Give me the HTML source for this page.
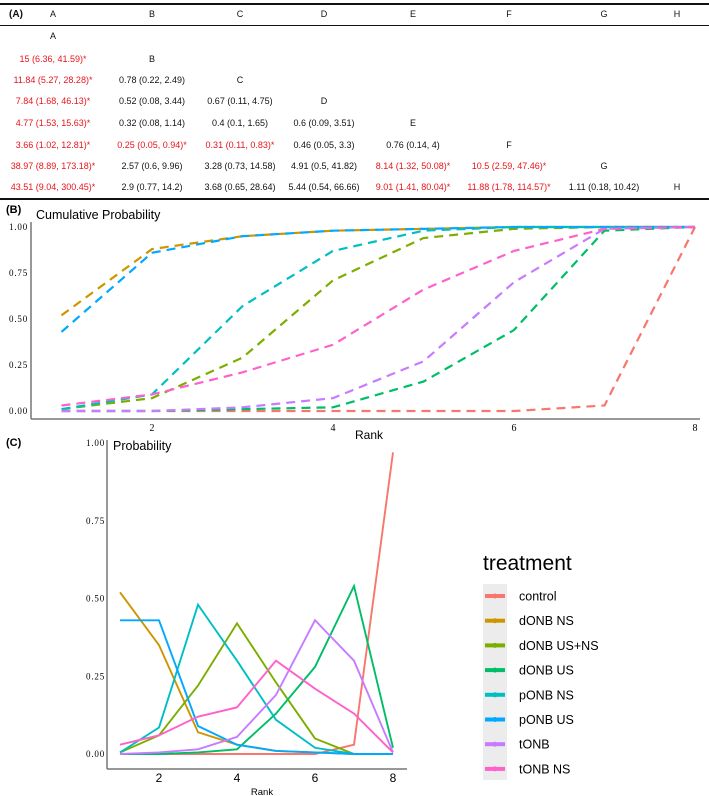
<!DOCTYPE html>
<html><head><meta charset="utf-8">
<style>
body{margin:0;background:#fff;width:709px;height:796px;overflow:hidden;position:relative;font-family:"Liberation Sans",sans-serif}
.t{position:absolute;font-size:9px;white-space:nowrap;transform:translateX(-50%);color:#111}
.r{color:#e8141b}
svg{position:absolute;left:0;top:0}
</style></head><body>
<div id="tbl"></div>
<svg id="chart" width="709" height="796"></svg>
<script>
// Table
const colX=[53,152,240,324,413,509,604,677];
const rowY=[37,60,81,102,124,146,167,188];
const letters=["A","B","C","D","E","F","G","H"];
const cells=[
[],
[["15 (6.36, 41.59)*",1]],
[["11.84 (5.27, 28.28)*",1],["0.78 (0.22, 2.49)",0]],
[["7.84 (1.68, 46.13)*",1],["0.52 (0.08, 3.44)",0],["0.67 (0.11, 4.75)",0]],
[["4.77 (1.53, 15.63)*",1],["0.32 (0.08, 1.14)",0],["0.4 (0.1, 1.65)",0],["0.6 (0.09, 3.51)",0]],
[["3.66 (1.02, 12.81)*",1],["0.25 (0.05, 0.94)*",1],["0.31 (0.11, 0.83)*",1],["0.46 (0.05, 3.3)",0],["0.76 (0.14, 4)",0]],
[["38.97 (8.89, 173.18)*",1],["2.57 (0.6, 9.96)",0],["3.28 (0.73, 14.58)",0],["4.91 (0.5, 41.82)",0],["8.14 (1.32, 50.08)*",1],["10.5 (2.59, 47.46)*",1]],
[["43.51 (9.04, 300.45)*",1],["2.9 (0.77, 14.2)",0],["3.68 (0.65, 28.64)",0],["5.44 (0.54, 66.66)",0],["9.01 (1.41, 80.04)*",1],["11.88 (1.78, 114.57)*",1],["1.11 (0.18, 10.42)",0]]
];
const tbl=document.getElementById('tbl');
function div(txt,x,y,cls,name){const d=document.createElement('div');d.className='t '+(cls||'');d.textContent=txt;d.style.left=x+'px';d.style.top=(y-6)+'px';


tbl.appendChild(d);return d;}
const pa=div("(A)",16,15,'','panel-a-label');pa.style.fontWeight='bold';pa.style.fontSize='10px';
letters.forEach((l,i)=>{div(l,colX[i],15,'','column-header');div(l,colX[i],rowY[i],'','diagonal-label');});
cells.forEach((row,i)=>row.forEach((c,j)=>div(c[0],colX[j],rowY[i],c[1]?'r':'','table-cell')));
[[3,2],[25,1],[198,2]].forEach(([y,w])=>{const d=document.createElement('div');d.style.cssText=`position:absolute;left:0;top:${y}px;width:709px;height:${w}px;background:#111`;


tbl.appendChild(d);});

// Chart data
const series=["control","dONB NS","dONB US+NS","dONB US","pONB NS","pONB US","tONB","tONB NS"];
const colors=["#F8766D","#CD9600","#7CAE00","#00BE67","#00BFC4","#00A9FF","#C77CFF","#FF61CC"];
const ranks=[1,2,3,4,5,6,7,8];
const cumControl=[0,0,0,0,0,0,0.03,1];
const cumDonbNs=[0.52,0.88,0.95,0.98,0.99,1,1,1];
const cumDonbUsNs=[0.01,0.07,0.29,0.71,0.94,0.99,1,1];
const cumDonbUs=[0,0,0.01,0.02,0.16,0.44,0.98,1];
const cumPonbNs=[0.01,0.09,0.57,0.87,0.98,1,1,1];
const cumPonbUs=[0.43,0.86,0.95,0.98,0.99,1,1,1];
const cumTonb=[0,0,0.02,0.07,0.27,0.70,0.99,1];
const cumTonbNs=[0.03,0.09,0.21,0.36,0.66,0.87,0.99,1];
const pControl=[0,0,0,0,0,0,0.03,0.97];
const pDonbNs=[0.52,0.35,0.07,0.03,0.01,0.005,0,0];
const pDonbUsNs=[0.005,0.06,0.22,0.42,0.23,0.05,0,0];
const pDonbUs=[0,0,0.005,0.015,0.13,0.28,0.54,0.02];
const pPonbNs=[0.005,0.085,0.48,0.30,0.11,0.02,0,0];
const pPonbUs=[0.43,0.43,0.09,0.03,0.01,0.005,0,0];
const pTonb=[0,0.005,0.015,0.055,0.19,0.43,0.30,0.005];
const pTonbNs=[0.03,0.06,0.12,0.15,0.30,0.21,0.13,0.005];
const yTicks=[0,0.25,0.5,0.75,1];
const yTickLabels=["0.00","0.25","0.50","0.75","1.00"];
const xTicks=[2,4,6,8];
const cum=[cumControl,cumDonbNs,cumDonbUsNs,cumDonbUs,cumPonbNs,cumPonbUs,cumTonb,cumTonbNs];
const prob=[pControl,pDonbNs,pDonbUsNs,pDonbUs,pPonbNs,pPonbUs,pTonb,pTonbNs];

const svg=document.getElementById('chart');
const NS='http://www.w3.org/2000/svg';
function mk(tag,attrs,name,parent){const e=document.createElementNS(NS,tag);for(const k in attrs)e.setAttribute(k,attrs[k]);


(parent||svg).appendChild(e);return e;}
function txt(s,x,y,attrs,name){const e=mk('text',Object.assign({x:x,y:y},attrs),name);e.textContent=s;return e;}

// Panel B
const bx=r=>61.5+(r-1)*90.5, by=v=>411-v*184;
txt("(B)",6,213,{'font-size':11,'font-weight':'bold'},'panel-b-label');
txt("Cumulative Probability",36,219,{'font-size':12.5},'panel-b-title');
mk('line',{x1:31,y1:222,x2:31,y2:419,stroke:'#777','stroke-width':1.5},'b-y-axis');
mk('line',{x1:31,y1:419,x2:700,y2:419,stroke:'#777','stroke-width':1.5},'b-x-axis');
yTicks.forEach((v,i)=>txt(yTickLabels[i],28,by(v)+3,{'font-size':9,'font-family':'Liberation Serif','letter-spacing':'0.8','text-anchor':'end'},'b-y-tick'));
xTicks.forEach(r=>txt(String(r),bx(r),431,{'font-size':10,'font-family':'Liberation Serif','text-anchor':'middle'},'b-x-tick'));
txt("Rank",369,439,{'font-size':12,'text-anchor':'middle'},'b-x-axis-title');
cum.forEach((s,i)=>mk('polyline',{points:s.map((v,j)=>bx(ranks[j])+','+by(v)).join(' '),fill:'none',stroke:colors[i],'stroke-width':2.2,'stroke-dasharray':'9 6'},'b-line-'+series[i].toLowerCase().replace(/[^a-z]+/g,'-')));

// Panel C
const cx=r=>120+(r-1)*39, cy=v=>754-v*311;
txt("(C)",6,446,{'font-size':11,'font-weight':'bold'},'panel-c-label');
txt("Probability",113,450,{'font-size':12.5},'panel-c-title');
mk('line',{x1:107,y1:440,x2:107,y2:769,stroke:'#777','stroke-width':1.5},'c-y-axis');
mk('line',{x1:107,y1:769,x2:407,y2:769,stroke:'#777','stroke-width':1.5},'c-x-axis');
yTicks.forEach((v,i)=>txt(yTickLabels[i],105,cy(v)+3,{'font-size':9,'font-family':'Liberation Serif','letter-spacing':'0.8','text-anchor':'end'},'c-y-tick'));
xTicks.forEach(r=>txt(String(r),cx(r),782,{'font-size':12,'text-anchor':'middle'},'c-x-tick'));
txt("Rank",262,795,{'font-size':9.5,'text-anchor':'middle'},'c-x-axis-title');
prob.forEach((s,i)=>mk('polyline',{points:s.map((v,j)=>cx(ranks[j])+','+cy(v)).join(' '),fill:'none',stroke:colors[i],'stroke-width':1.9},'c-line-'+series[i].toLowerCase().replace(/[^a-z]+/g,'-')));

// Legend
txt("treatment",483,570,{'font-size':21},'legend-title');
mk('rect',{x:483,y:584,width:24,height:196,fill:'#ececec'},'legend-key-background');
series.forEach((s,i)=>{const y=596+i*24.7;
mk('rect',{x:485,y:y-2,width:20,height:4,fill:colors[i]},'legend-key');
mk('circle',{cx:495,cy:y,r:2.5,fill:colors[i]},'legend-key-dot');
txt(s,519,y+4.5,{'font-size':12.5},'legend-entry');});
</script>
</body></html>
